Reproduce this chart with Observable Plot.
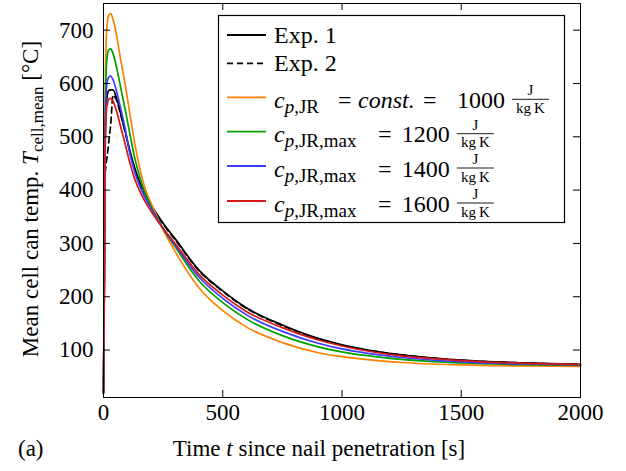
<!DOCTYPE html>
<html><head><meta charset="utf-8">
<script src="https://cdn.jsdelivr.net/npm/d3@7"></script>
<script src="https://cdn.jsdelivr.net/npm/@observablehq/plot@0.6"></script>
<style>
body{margin:0;background:#fff;}
#chart{width:626px;height:471px;}
</style></head><body><div id="chart"></div>
<script>
// time grid [s]
const time = [0,3,6,10,15,22,30,40,55,70,90,110,130,150,175,200,250,300,400,500,600,750,900,1000,1250,1500,1750,2000];
// mean cell can temperature [°C]
const exp1   = [20,190,440,545,575,587,588,588,572,548,512,475,443,417,393,372,338,309,250,211,179,147,122,110,91,81,76,73];
const exp2   = [20,185,420,445,462,490,522,578,568,545,510,473,441,415,391,370,336,307,249,210,178,146,121,109,91,81,76,73];
const cp1000 = [20,230,520,660,710,728,731,720,690,650,600,545,490,445,402,375,326,285,217,174,143,114,95,87.5,76.6,72.1,70.2,69.5];
const cp1200 = [20,210,480,610,650,663,665,656,630,597,553,507,462,428,393,368,328,294,230,189,158,127,106,96.5,82.4,75.8,72.7,71.3];
const cp1400 = [20,200,460,570,602,612,614,607,585,557,517,470,435,410,385,365,328,297,237,197,166,135,112.7,102.2,86,78,74,72];
const cp1600 = [20,190,430,530,560,570,572,567,548,522,488,452,422,400,378,360,328,300,242,203,172,142,118.8,107.6,88.9,80.3,75.4,72.8];

const seriesKeys   = ["Exp. 2","Exp. 1","cp1000","cp1200","cp1400","cp1600"];
const seriesValues = [exp2, exp1, cp1000, cp1200, cp1400, cp1600];
const seriesColors = ["#000000","#000000","#ff8000","#00a000","#3c3cff","#d41818"];
const seriesDash   = ["6,4", null, null, null, null, null];

const xTicks = [0,500,1000,1500,2000];
const yTicks = [100,200,300,400,500,600,700];

// legend texts
const legendExp = ["Exp. 1","Exp. 2"];
const legendSub = ["p,JR","p,JR,max","p,JR,max","p,JR,max"];
const legendMid = ["const.", null, null, null];
const legendVal = ["1000","1200","1400","1600"];
const legendColors = ["#000000","#000000","#ff8000","#00a000","#3c3cff","#d41818"];
const legendDash = [null,"6,4",null,null,null,null];

const rows = [];
seriesKeys.forEach((k,i)=>seriesValues[i].forEach((v,j)=>rows.push({key:k, t:time[j], T:v})));

const W=626,H=471,mL=103,mR=46,mT=3,mB=74;
const plotW=W-mL-mR, plotH=H-mT-mB, tk=7;

const marks = [];
seriesKeys.forEach((k,i)=>{
  marks.push(Plot.line(rows.filter(r=>r.key===k),{x:"t",y:"T",stroke:seriesColors[i],strokeWidth:1.7,
    strokeDasharray:seriesDash[i]||undefined,curve:"monotone-x"}));
});
marks.push(
  Plot.tickY(yTicks,{y:d=>d,insetRight:plotW-tk,stroke:"black"}),
  Plot.tickY(yTicks,{y:d=>d,insetLeft:plotW-tk,stroke:"black"}),
  Plot.tickX(xTicks,{x:d=>d,insetTop:plotH-tk,stroke:"black"}),
  Plot.tickX(xTicks,{x:d=>d,insetBottom:plotH-tk,stroke:"black"}),
  Plot.axisY(yTicks,{tickSize:0,tickPadding:10,tickFormat:d=>String(d),label:null,fill:"black"}),
  Plot.axisX(xTicks,{tickSize:0,tickPadding:6,tickFormat:d=>String(d),label:null,fill:"black"}),
  Plot.frame({stroke:"black",strokeWidth:1})
);

const svg = Plot.plot({
  width:W,height:H,marginLeft:mL,marginRight:mR,marginTop:mT,marginBottom:mB,
  x:{domain:[0,2000]},
  y:{domain:[11,750]},
  style:{fontFamily:"'Liberation Serif',serif",fontSize:"23px",background:"white",color:"black"},
  marks
});
document.getElementById("chart").appendChild(svg);

const s = d3.select(svg);
const FF = "'Liberation Serif',serif";
// x label
const xl = s.append("text").attr("x",319).attr("y",456).attr("text-anchor","middle")
  .attr("font-family",FF).attr("font-size",23).attr("fill","black");
xl.append("tspan").text("Time ");
xl.append("tspan").attr("font-style","italic").text("t");
xl.append("tspan").text(" since nail penetration [s]");
// (a)
s.append("text").attr("x",18).attr("y",456).attr("text-anchor","start").attr("font-family",FF).attr("font-size",23).text("(a)");
// y label
const yl = s.append("text").attr("transform","translate(38,199) rotate(-90)").attr("text-anchor","middle")
  .attr("font-family",FF).attr("font-size",23).attr("fill","black");
yl.append("tspan").text("Mean cell can temp. ");
yl.append("tspan").attr("font-style","italic").text("T");
yl.append("tspan").attr("font-size",17).attr("dy",5).text("cell,mean");
yl.append("tspan").attr("dy",-5).text(" [°C]");

// legend
const lg = s.append("g").attr("font-family",FF).attr("fill","black").attr("text-anchor","start");
lg.append("rect").attr("x",218.5).attr("y",15.5).attr("width",346).attr("height",207)
  .attr("fill","white").attr("stroke","black").attr("stroke-width",1.2);
const lineY=[35,63.3,97.3,131.7,166,201];
lineY.forEach((y,i)=>{
  lg.append("line").attr("x1",227).attr("x2",266).attr("y1",y).attr("y2",y)
    .attr("stroke",legendColors[i]).attr("stroke-width",1.8)
    .attr("stroke-dasharray",legendDash[i]||null);
});
legendExp.forEach((t,i)=>{
  lg.append("text").attr("x",274).attr("y",lineY[i]+8).attr("font-size",24).text(t);
});
legendVal.forEach((v,k)=>{
  const i=k+2, fl=lineY[i]+2, base=fl+8.5;
  const isC = !!legendMid[k];
  const t = lg.append("text").attr("x",274).attr("y",base).attr("font-size",24);
  t.append("tspan").attr("font-style","italic").text("c");
  t.append("tspan").attr("font-size",19).attr("dy",5).attr("font-style","italic").text("p");
  t.append("tspan").attr("font-size",19).text(legendSub[k].slice(1));
  const eqX = isC?338:378;
  lg.append("text").attr("x",eqX).attr("y",base).attr("font-size",24).text("=");
  let valX = 401.7, fc = 475.3;
  if(isC){
    lg.append("text").attr("x",358).attr("y",base).attr("font-size",24).attr("font-style","italic").text(legendMid[k]);
    lg.append("text").attr("x",423).attr("y",base).attr("font-size",24).text("=");
    valX=457; fc=530.5;
  }
  lg.append("text").attr("x",valX).attr("y",base).attr("font-size",24).text(v);
  lg.append("line").attr("x1",fc-18.5).attr("x2",fc+18.5).attr("y1",fl).attr("y2",fl).attr("stroke","black").attr("stroke-width",0.9);
  lg.append("text").attr("x",fc).attr("y",fl-4).attr("font-size",15).attr("text-anchor","middle").text("J");
  lg.append("text").attr("x",fc).attr("y",fl+13.5).attr("font-size",15).attr("text-anchor","middle").text("kg\u2009K");
});
</script>
</body></html>
